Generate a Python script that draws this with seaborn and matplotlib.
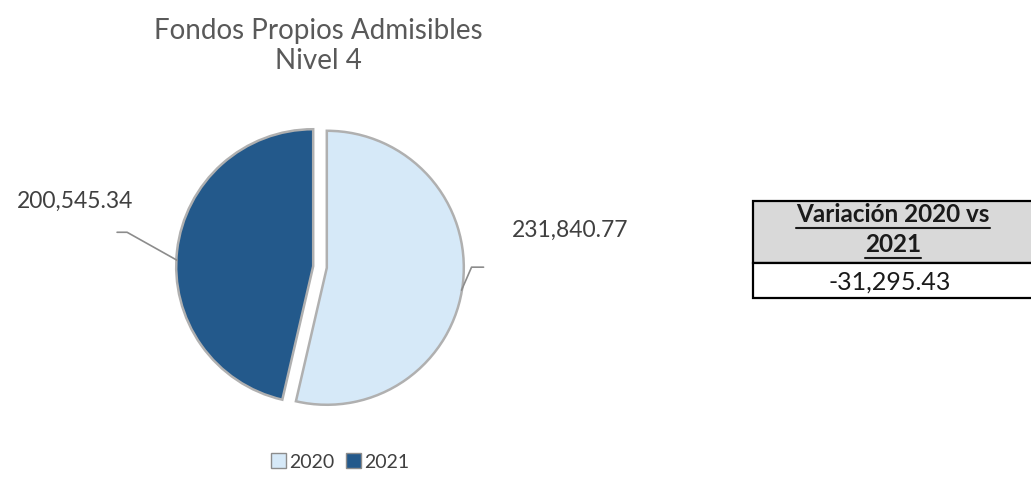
import numpy as np
import matplotlib.pyplot as plt
import seaborn as sns
from matplotlib.patches import Patch, Rectangle
from matplotlib.lines import Line2D

# datos
categories = ['2020', '2021']
values = [231840.77, 200545.34]
value_labels = ['231,840.77', '200,545.34']
colors = ['#d6e9f8', '#23598b']
title_text = 'Fondos Propios Admisibles\nNivel 4'
table_header = ['Variación 2020 vs', '2021']
variation_label = '-31,295.43'

sns.set_theme(style='white')
plt.rcParams['font.family'] = ['Lato', 'DejaVu Sans']

W, H = 1031, 491
fig = plt.figure(figsize=(W / 100, H / 100), dpi=100)

# eje del pastel (radio en pixeles)
r_px = 137
cx, cy = 320, 267
half = 150
ax = fig.add_axes([(cx - half) / W, (H - cy - half) / H, 2 * half / W, 2 * half / H])
lim = half / r_px

wedges, _ = ax.pie(values, colors=colors, startangle=90, counterclock=False,
                   explode=[0.05, 0.05],
                   wedgeprops=dict(edgecolor='#b0b0b0', linewidth=1.8))
ax.set_xlim(-lim, lim)
ax.set_ylim(-lim, lim)
ax.axis('off')


def px(dx, dy):
    # desplazamiento en pixeles -> unidades de datos
    return dx / r_px, -dy / r_px


# lineas guia y etiquetas
label_color = '#404040'
line_color = '#8c8c8c'
# 2020 (derecha)
w = wedges[0]
ang = np.deg2rad((w.theta1 + w.theta2) / 2)
x0 = w.center[0] + np.cos(ang) - 0.01
y0 = w.center[1] + np.sin(ang) - 0.05
x1, y1 = x0 + px(10, -23)[0], y0 + px(10, -23)[1]
x2 = x1 + px(12, 0)[0]
ax.plot([x0, x1, x2], [y0, y1, y1], color=line_color, lw=1.2, clip_on=False)
ax.text(x2 + px(28, 0)[0], y1 + px(0, -37)[1], value_labels[0], ha='left', va='center',
        fontsize=16.5, color=label_color, clip_on=False)
# 2021 (izquierda)
w = wedges[1]
ang = np.deg2rad((w.theta1 + w.theta2) / 2)
x0 = w.center[0] + np.cos(ang)
y0 = w.center[1] + np.sin(ang) - 0.07
x1, y1 = x0 + px(-50, -28)[0], y0 + px(-50, -28)[1]
x2 = x1 + px(-10, 0)[0]
ax.plot([x0, x1, x2], [y0, y1, y1], color=line_color, lw=1.2, clip_on=False)
ax.text(x2 + px(16, 0)[0], y1 + px(0, -31)[1], value_labels[1], ha='right', va='center',
        fontsize=16.5, color=label_color, clip_on=False)

# titulo
fig.text(318 / W, 1 - 46 / H, title_text, ha='center', va='center', fontsize=20,
         color='#595959', linespacing=1.2)

# leyenda
handles = [Patch(facecolor=c, edgecolor='#8c8c8c', linewidth=1.0) for c in colors]
fig.legend(handles, categories, loc='center', bbox_to_anchor=(340 / W, 1 - 462 / H),
           ncol=2, frameon=False, fontsize=14, handlelength=0.8, handleheight=0.8,
           handletextpad=0.15, columnspacing=0.6, labelcolor='#404040')

# tabla de variacion
tx0, tx1 = 753, 1040
ty0, ty1, ty2 = 201, 263, 298
fig.add_artist(Rectangle((tx0 / W, 1 - ty1 / H), (tx1 - tx0) / W, (ty1 - ty0) / H,
                         transform=fig.transFigure, facecolor='#d9d9d9',
                         edgecolor='black', linewidth=1.6))
fig.add_artist(Rectangle((tx0 / W, 1 - ty2 / H), (tx1 - tx0) / W, (ty2 - ty1) / H,
                         transform=fig.transFigure, facecolor='white',
                         edgecolor='black', linewidth=1.6))
hx = 893
header_texts = []
for line, yc in zip(table_header, [214, 244]):
    t = fig.text(hx / W, 1 - yc / H, line, ha='center', va='center', fontsize=17.5,
                 fontweight='bold', color='#1a1a1a')
    header_texts.append(t)
fig.text(890 / W, 1 - 282 / H, variation_label, ha='center', va='center', fontsize=18,
         color='#1a1a1a')

# subrayado del encabezado
fig.canvas.draw()
renderer = fig.canvas.get_renderer()
for t, yu in zip(header_texts, [228, 258]):
    bb = t.get_window_extent(renderer)
    fig.add_artist(Line2D([bb.x0 / W, bb.x1 / W], [1 - yu / H, 1 - yu / H],
                          transform=fig.transFigure, color='#1a1a1a', lw=1.5))

fig.savefig('out.png', dpi=100)
